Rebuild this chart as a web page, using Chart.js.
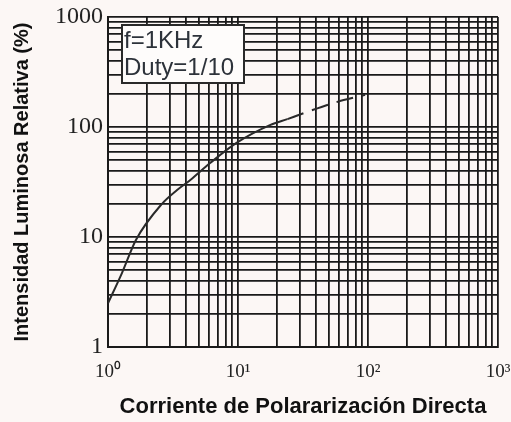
<!DOCTYPE html>
<html>
<head>
<meta charset="utf-8">
<script src="https://cdn.jsdelivr.net/npm/chart.js@4"></script>
<style>
  html, body { margin: 0; padding: 0; background: #fcf7f5; }
  #wrap { width: 511px; height: 422px; }
</style>
</head>
<body>
<div id="wrap"><canvas id="ledChart" width="511" height="422"></canvas></div>
<script>
// Corriente (x) vs intensidad relativa (y), lectura del grafico
var solidX = [1, 1.28, 1.64, 2.56, 3.4, 4.3, 6.1, 9.8, 17.6, 24];
var solidY = [2.5, 4.7, 9.4, 19.6, 26.7, 33, 47, 72, 104, 118];
var dashX = [24, 34, 54, 95];
var dashY = [118, 137, 165, 196];

var gridValues = [1, 2, 3, 4, 5, 6, 7, 8, 9, 10, 20, 30, 40, 50, 60, 70, 80, 90,
	100, 200, 300, 400, 500, 600, 700, 800, 900, 1000];
var majorValues = [1, 10, 100, 1000];
var xTickLabels = ['10\u2070', '10\u00b9', '10\u00b2', '10\u00b3'];
var yTickLabels = ['1', '10', '100', '1000'];

var gridColor = '#1a1a1a';

function toPoints(xs, ys) {
	return xs.map(function (x, i) { return { x: x, y: ys[i] }; });
}

function setGrid(scale) {
	scale.ticks = gridValues.map(function (v) { return { value: v }; });
}

var bgPlugin = {
	id: 'bg',
	beforeDraw: function (chart) {
		var ctx = chart.ctx;
		ctx.save();
		ctx.fillStyle = '#fcf7f5';
		ctx.fillRect(0, 0, chart.width, chart.height);
		ctx.restore();
	}
};

var notePlugin = {
	id: 'note',
	afterDraw: function (chart) {
		var ctx = chart.ctx;
		ctx.save();
		ctx.fillStyle = '#fefcfb';
		ctx.fillRect(122, 25, 122, 58);
		ctx.strokeStyle = '#2a2a2a';
		ctx.lineWidth = 2;
		ctx.strokeRect(122, 25, 122, 58);
		ctx.fillStyle = '#2d323a';
		ctx.font = '24px "Liberation Sans", Arial, sans-serif';
		ctx.textBaseline = 'alphabetic';
		ctx.fillText('f=1KHz', 124, 48);
		ctx.fillText('Duty=1/10', 124, 75);
		ctx.restore();
	}
};

var ledChart = new Chart(document.getElementById('ledChart'), {
	type: 'line',
	data: {
		datasets: [{
			data: toPoints(solidX, solidY),
			borderColor: '#2a2a2a',
			borderWidth: 2,
			pointRadius: 0,
			cubicInterpolationMode: 'monotone'
		}, {
			data: toPoints(dashX, dashY),
			borderColor: '#2a2a2a',
			borderWidth: 2,
			borderDash: [17, 9],
			pointRadius: 0,
			cubicInterpolationMode: 'monotone'
		}]
	},
	options: {
		responsive: false,
		animation: false,
		layout: {
			padding: { top: 17, right: 13, left: 0, bottom: 0 }
		},
		plugins: {
			legend: { display: false },
			tooltip: { enabled: false }
		},
		scales: {
			x: {
				type: 'logarithmic',
				min: 1,
				max: 1000,
				afterBuildTicks: setGrid,
				afterFit: function (scale) {
					scale.height = 75;
					scale.paddingLeft = 0;
					scale.paddingRight = 0;
				},
				grid: { color: gridColor, lineWidth: 1.8, drawTicks: false },
				border: { display: true, color: gridColor, width: 2 },
				ticks: {
					autoSkip: false,
					maxRotation: 0,
					padding: 14,
					color: '#222',
					font: { family: '"Liberation Serif", "Times New Roman", serif', size: 19 },
					callback: function (value) {
						var i = majorValues.indexOf(value);
						return i >= 0 ? xTickLabels[i] : '';
					}
				},
				title: {
					display: true,
					text: 'Corriente de Polararización Directa',
					color: '#111',
					padding: { top: 0, bottom: 2 },
					font: { family: '"Liberation Sans Narrow", "Liberation Sans", Arial, sans-serif', size: 22, weight: 'bold' }
				}
			},
			y: {
				type: 'logarithmic',
				min: 1,
				max: 1000,
				afterBuildTicks: setGrid,
				afterFit: function (scale) {
					scale.width = 108;
					scale.paddingTop = 0;
					scale.paddingBottom = 0;
				},
				grid: { color: gridColor, lineWidth: 1.8, drawTicks: false },
				border: { display: true, color: gridColor, width: 2 },
				ticks: {
					autoSkip: false,
					padding: 5,
					color: '#222',
					font: { family: '"Liberation Serif", "Times New Roman", serif', size: 24 },
					callback: function (value) {
						var i = majorValues.indexOf(value);
						return i >= 0 ? yTickLabels[i] : '';
					}
				},
				title: {
					display: true,
					text: 'Intensidad Luminosa Relativa (%)',
					color: '#111',
					padding: { top: 10, bottom: 0 },
					font: { family: '"Liberation Sans Narrow", "Liberation Sans", Arial, sans-serif', size: 20, weight: 'bold' }
				}
			}
		}
	},
	plugins: [bgPlugin, notePlugin]
});
</script>
</body>
</html>
